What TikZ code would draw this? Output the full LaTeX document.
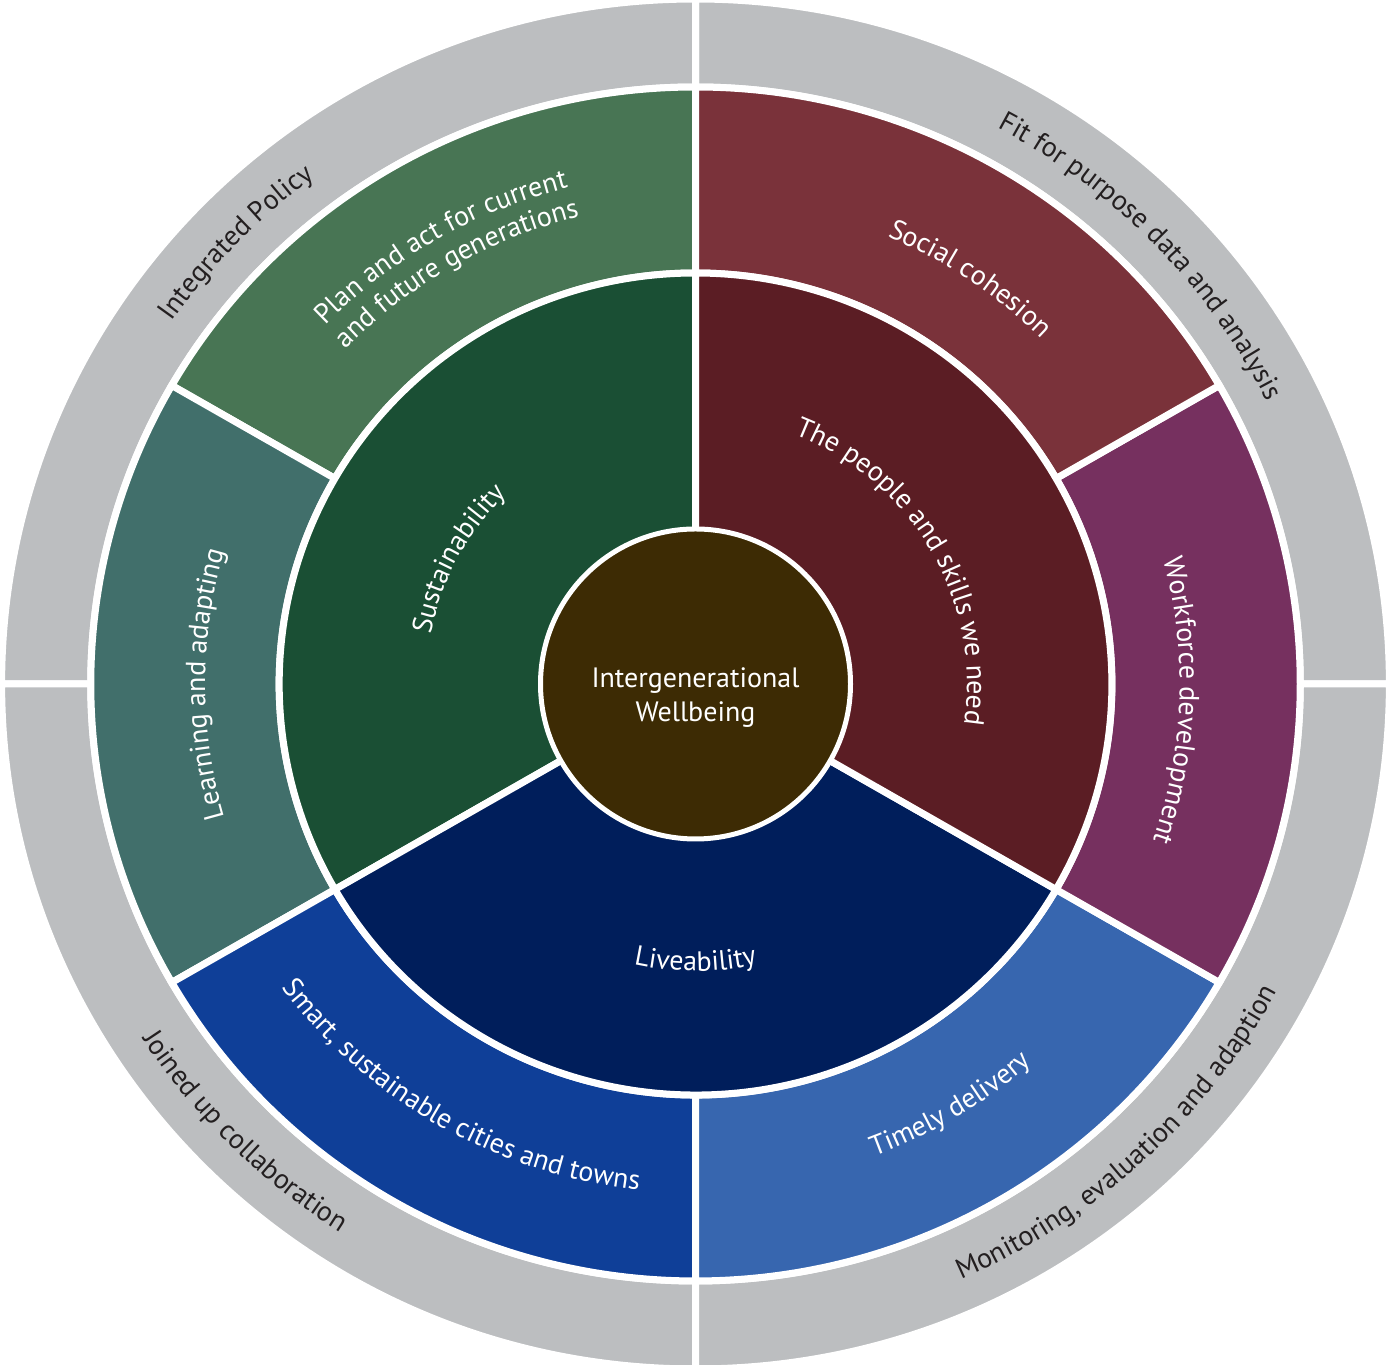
\documentclass[tikz,border=0pt]{standalone}
\usepackage{fontspec}
\setmainfont{PT Sans}
\usetikzlibrary{decorations.text}
\usetikzlibrary{calc}

\definecolor{ringgrey}{HTML}{BCBEC0}
\definecolor{labelgrey}{HTML}{231F20}
\definecolor{plangreen}{HTML}{487554}
\definecolor{learnteal}{HTML}{416F6B}
\definecolor{smartblue}{HTML}{0F3F98}
\definecolor{timelyblue}{HTML}{3766AF}
\definecolor{workpurple}{HTML}{76305F}
\definecolor{socialred}{HTML}{7A323A}
\definecolor{sustgreen}{HTML}{1A4F34}
\definecolor{liveblue}{HTML}{001E5B}
\definecolor{peoplered}{HTML}{5B1D24}
\definecolor{hubbrown}{HTML}{3D2B04}

\newcommand{\pillarfont}{\color{white}\fontsize{14}{17}\selectfont}
\newcommand{\bandfont}{\color{labelgrey}\fontsize{14}{17}\selectfont}
% ring piece from angle #1 to #2 between radius #3 and #4
\newcommand{\ringpiece}[4]{(#1:#3) arc[start angle=#1, end angle=#2, radius=#3] -- (#2:#4) arc[start angle=#2, end angle=#1, radius=#4] -- cycle}

\tikzstyle{band}=[draw=white, line width=3.5pt]
\tikzstyle{hub}=[circle, fill=hubbrown, draw=white, line width=2.5pt, minimum size=155pt, inner sep=0pt]
\tikzstyle{hubtext}=[align=center, text=white, font=\fontsize{14}{17}\selectfont]
\tikzstyle{arclabel}=[decorate, decoration={text along path, text align=center}]

\begin{document}
\begin{tikzpicture}[x=0.5065pt, y=0.5pt]
    % picture frame
    \useasboundingbox (-686.6,-681) rectangle (685.6,684);

    \def\ra{685}
    \def\rb{597}
    \def\rc{411}

    % First we draw the grey outer band
    \foreach \a in {0,90,180,270}
        \path[band, fill=ringgrey] \ringpiece{\a}{\a+90}{\rb}{\ra};

    % Then the six coloured sectors
    \foreach \from/\to/\col in {90/150/plangreen, 150/210/learnteal, 210/270/smartblue, 270/330/timelyblue, -30/30/workpurple, 30/90/socialred}
        \path[band, fill=\col] \ringpiece{\from}{\to}{\rc}{\rb};

    % The three pillars round the hub
    \foreach \from/\to/\col in {90/210/sustgreen, 210/330/liveblue, -30/90/peoplered}
        \path[band, fill=\col] (0,0) -- (\from:\rc) arc[start angle=\from, end angle=\to, radius=\rc] -- cycle;

    \node[hub] (core) at (0,0) {};
    \node[hubtext] (coretext) at (0,-14) {Intergenerational\\Wellbeing};

    % White labels along the arcs (dir -1 runs clockwise)
    \foreach \ang/\rad/\dir/\txt in {{120/512/-1/Plan and act for current}, {120/481/-1/and future generations}, {56/486/-1/Social cohesion}, {-2/478/-1/Workforce development}, {180/484/-1/Learning and adapting}, {152/266/-1/Sustainability}, {30/268/-1/The people and skills we need}, {-59/504/1/Timely delivery}, {240/509/1/{Smart, sustainable cities and towns}}, {270/287/1/Liveability}}
        \path[arclabel, decoration={text/.expanded={|\noexpand\pillarfont|\txt}}] (\ang-50*\dir:\rad) arc[start angle=\ang-50*\dir, end angle=\ang+50*\dir, radius=\rad];

    % Grey band labels
    \foreach \ang/\rad/\dir/\txt in {{136/631/-1/Integrated Policy}, {44/631/-1/Fit for purpose data and analysis}, {225/651/1/Joined up collaboration}, {-47/651/1/{Monitoring, evaluation and adaption}}}
        \path[arclabel, decoration={text/.expanded={|\noexpand\bandfont|\txt}}] (\ang-50*\dir:\rad) arc[start angle=\ang-50*\dir, end angle=\ang+50*\dir, radius=\rad];

\end{tikzpicture}
\end{document}
